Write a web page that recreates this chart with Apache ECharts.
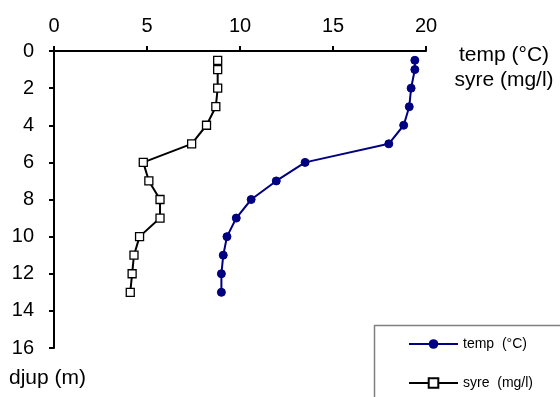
<!DOCTYPE html>
<html>
<head>
<meta charset="utf-8">
<script src="https://cdn.jsdelivr.net/npm/echarts@6/dist/echarts.min.js"></script>
<style>
  html, body { margin: 0; padding: 0; background: #fff; }
  #chart { width: 560px; height: 397px; }
</style>
</head>
<body>
<div id="chart"></div>
<script>
// djup (m) for each sample
var depths = [0.5, 1, 2, 3, 4, 5, 6, 7, 8, 9, 10, 11, 12, 13];
// temp (°C)
var tempValues = [19.4, 19.4, 19.2, 19.1, 18.8, 18.0, 13.5, 11.95, 10.6, 9.8, 9.3, 9.1, 9.0, 9.0];
// syre (mg/l)
var syreValues = [8.8, 8.8, 8.8, 8.7, 8.2, 7.4, 4.8, 5.1, 5.7, 5.7, 4.6, 4.3, 4.2, 4.1];

function pairs(values) {
  return values.map(function (v, i) { return [v, depths[i]]; });
}

var font = 'Liberation Sans, Arial, sans-serif';
var chart = echarts.init(document.getElementById('chart'), null, { renderer: 'canvas' });

chart.setOption({
  animation: false,
  backgroundColor: '#fff',
  textStyle: { fontFamily: font },
  grid: { left: 54, right: 134, top: 51, bottom: 49, containLabel: false },
  xAxis: {
    type: 'value', position: 'top', min: 0, max: 20, interval: 5,
    axisLine: { show: true, lineStyle: { color: '#000', width: 2 } },
    axisTick: { show: true, length: 5, lineStyle: { color: '#000', width: 2 } },
    axisLabel: { color: '#000', fontSize: 20, fontFamily: font, margin: 15 },
    splitLine: { show: false }
  },
  yAxis: {
    type: 'value', inverse: true, min: 0, max: 16, interval: 2,
    axisLine: { show: true, lineStyle: { color: '#000', width: 2 } },
    axisTick: { show: true, length: 5, lineStyle: { color: '#000', width: 2 } },
    axisLabel: { color: '#000', fontSize: 20, fontFamily: font, margin: 20 },
    splitLine: { show: false }
  },
  legend: {
    left: 408, top: 337, orient: 'vertical', itemGap: 25,
    itemWidth: 49, itemHeight: 12, padding: 0,
    textStyle: { color: '#000', fontSize: 14, fontFamily: font },
    data: ['temp  (°C)', 'syre  (mg/l)']
  },
  graphic: [
    { type: 'rect', left: 372, top: 323, shape: { width: 200, height: 90 },
      style: { fill: 'none', stroke: '#808080', lineWidth: 1.5 }, z: -1 },
    { type: 'text', x: 504, y: 55,
      style: { text: 'temp (°C)', fontSize: 21, fontFamily: font, fill: '#000', align: 'center', verticalAlign: 'middle' } },
    { type: 'text', x: 504, y: 80,
      style: { text: 'syre (mg/l)', fontSize: 21, fontFamily: font, fill: '#000', align: 'center', verticalAlign: 'middle' } },
    { type: 'text', x: 9, y: 378,
      style: { text: 'djup (m)', fontSize: 21, fontFamily: font, fill: '#000', verticalAlign: 'middle' } }
  ],
  series: [
    {
      name: 'temp  (°C)', type: 'line', data: pairs(tempValues),
      symbol: 'circle', symbolSize: 8,
      lineStyle: { color: '#000080', width: 2 },
      itemStyle: { color: '#000080', borderColor: '#000080' }
    },
    {
      name: 'syre  (mg/l)', type: 'line', data: pairs(syreValues),
      symbol: 'rect', symbolSize: 8,
      lineStyle: { color: '#000', width: 2 },
      itemStyle: { color: '#fff', borderColor: '#000', borderWidth: 1.3 }
    }
  ]
});
</script>
</body>
</html>
